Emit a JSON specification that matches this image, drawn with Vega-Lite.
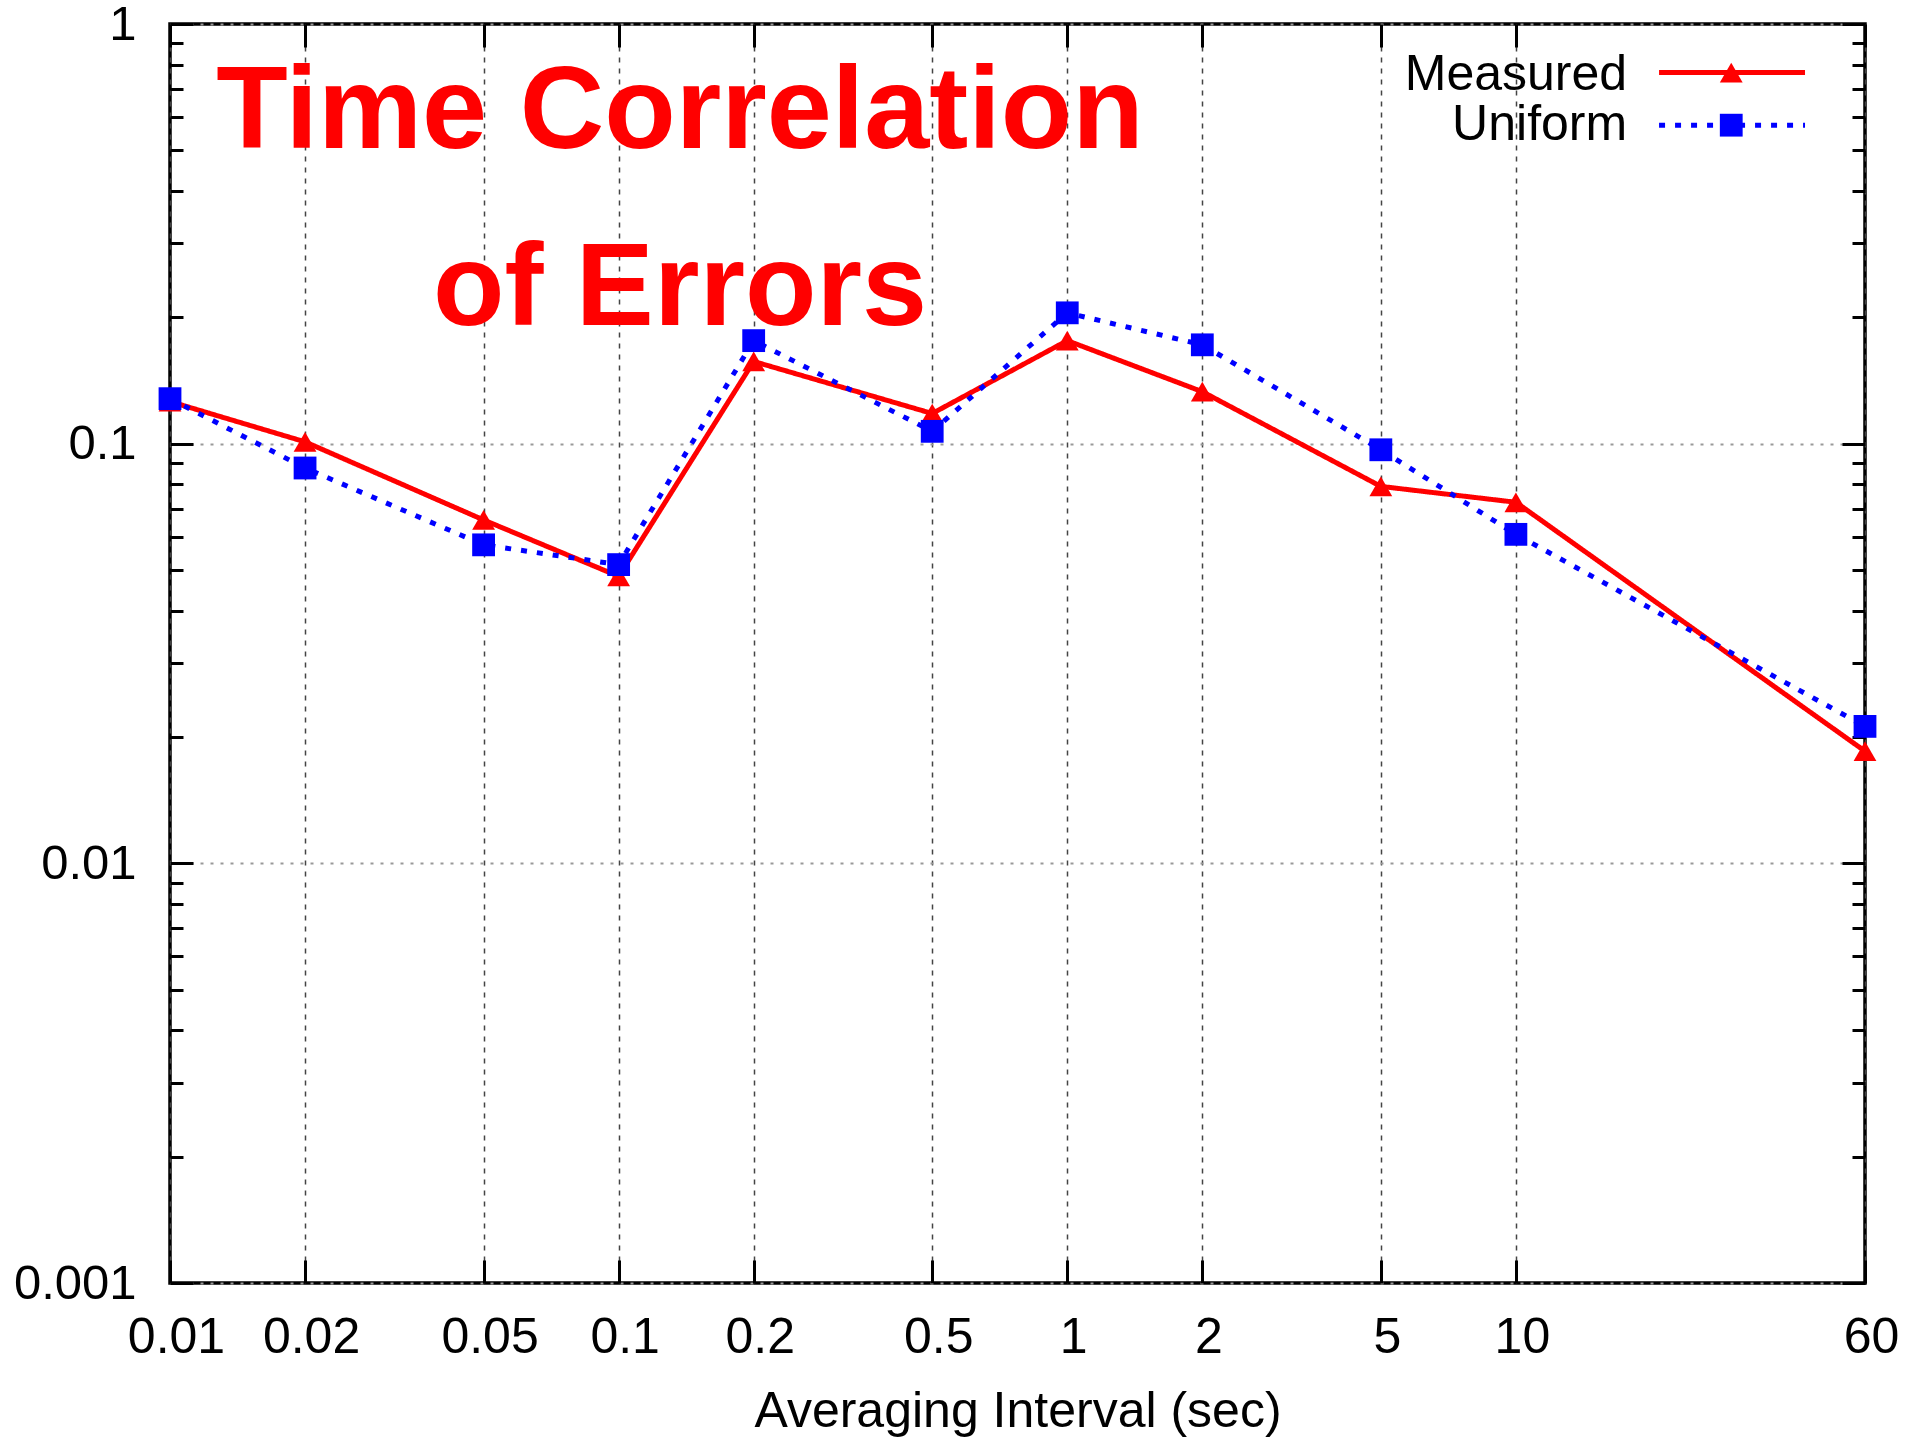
{
  "$schema": "https://vega.github.io/schema/vega-lite/v6.json",
  "width": 1695,
  "height": 1259,
  "autosize": {"type": "none"},
  "padding": {"left": 170, "top": 24, "right": 42, "bottom": 155},
  "background": "white",
  "config": {
    "view": {"stroke": "black", "strokeWidth": 3.5},
    "font": "Liberation Sans",
    "axis": {"labelFont": "Liberation Sans", "titleFont": "Liberation Sans", "labelColor": "black", "titleColor": "black", "titleFontWeight": "normal"}
  },
  "datasets": {
    "errors": [
      {"interval": 0.01, "series": "Measured", "error": 0.126},
      {"interval": 0.02, "series": "Measured", "error": 0.101},
      {"interval": 0.05, "series": "Measured", "error": 0.0658},
      {"interval": 0.1, "series": "Measured", "error": 0.0483},
      {"interval": 0.2, "series": "Measured", "error": 0.157},
      {"interval": 0.5, "series": "Measured", "error": 0.118},
      {"interval": 1, "series": "Measured", "error": 0.176},
      {"interval": 2, "series": "Measured", "error": 0.133},
      {"interval": 5, "series": "Measured", "error": 0.0791},
      {"interval": 10, "series": "Measured", "error": 0.0725},
      {"interval": 60, "series": "Measured", "error": 0.0185},
      {"interval": 0.01, "series": "Uniform", "error": 0.128},
      {"interval": 0.02, "series": "Uniform", "error": 0.0875},
      {"interval": 0.05, "series": "Uniform", "error": 0.0574},
      {"interval": 0.1, "series": "Uniform", "error": 0.0515},
      {"interval": 0.2, "series": "Uniform", "error": 0.176},
      {"interval": 0.5, "series": "Uniform", "error": 0.107},
      {"interval": 1, "series": "Uniform", "error": 0.205},
      {"interval": 2, "series": "Uniform", "error": 0.172},
      {"interval": 5, "series": "Uniform", "error": 0.0967},
      {"interval": 10, "series": "Uniform", "error": 0.0608},
      {"interval": 60, "series": "Uniform", "error": 0.0212}
    ],
    "keys": [
      {"series": "Measured"},
      {"series": "Uniform"}
    ],
    "heading": [
      {"title": "Time Correlation\nof Errors"}
    ]
  },
  "resolve": {"axis": {"x": "independent", "y": "independent"}},
  "layer": [
    {
      "data": {"name": "errors"},
      "mark": {"type": "line", "strokeWidth": 5, "strokeCap": "butt"},
      "encoding": {
        "x": {
          "field": "interval", "type": "quantitative",
          "scale": {"type": "log", "domain": [0.01, 60], "nice": false},
          "axis": {
            "orient": "bottom",
            "values": [0.01, 0.02, 0.05, 0.1, 0.2, 0.5, 1, 2, 5, 10, 60],
            "format": "~g",
            "labelFontSize": 50,
            "labelBaseline": "alphabetic",
            "labelPadding": 92,
            "labelOffset": 6,
            "labelFlush": false,
            "labelOverlap": false,
            "tickSize": -23, "tickWidth": 3, "tickColor": "black",
            "domain": false,
            "grid": true, "gridColor": "#444444", "gridDash": [5, 6], "gridWidth": 1.5,
            "title": "Averaging Interval (sec)",
            "titleFontSize": 50,
            "titleBaseline": "alphabetic",
            "titleY": 143
          }
        },
        "y": {
          "field": "error", "type": "quantitative",
          "scale": {"type": "log", "domain": [0.001, 1], "nice": false},
          "axis": {
            "orient": "left",
            "values": [0.001, 0.002, 0.003, 0.004, 0.005, 0.006, 0.007, 0.008, 0.009, 0.01, 0.02, 0.03, 0.04, 0.05, 0.06, 0.07, 0.08, 0.09, 0.1, 0.2, 0.3, 0.4, 0.5, 0.6, 0.7, 0.8, 0.9, 1],
            "format": "~g",
            "labelExpr": "abs(log(datum.value)/LN10 - round(log(datum.value)/LN10)) < 1e-6 ? datum.label : ''",
            "labelFontSize": 49,
            "labelBaseline": "middle",
            "labelPadding": 57,
            "labelOverlap": false,
            "tickSize": {"condition": {"test": "abs(log(datum.value)/LN10 - round(log(datum.value)/LN10)) < 1e-6", "value": -23}, "value": -13},
            "tickWidth": 3, "tickColor": "black",
            "domain": false,
            "grid": true,
            "gridOpacity": {"condition": {"test": "abs(log(datum.value)/LN10 - round(log(datum.value)/LN10)) < 1e-6", "value": 1}, "value": 0},
            "gridColor": "#999999", "gridDash": [3, 7], "gridWidth": 2,
            "title": null
          }
        },
        "color": {"field": "series", "type": "nominal", "scale": {"domain": ["Measured", "Uniform"], "range": ["#ff0000", "#0000ff"]}, "legend": null},
        "strokeDash": {"field": "series", "type": "nominal", "scale": {"domain": ["Measured", "Uniform"], "range": [[1, 0], [6, 10]]}, "legend": null}
      }
    },
    {
      "data": {"name": "errors"},
      "mark": {"type": "point", "filled": true, "opacity": 1, "size": 520},
      "encoding": {
        "x": {
          "field": "interval", "type": "quantitative",
          "axis": {
            "orient": "top",
            "values": [0.01, 0.02, 0.05, 0.1, 0.2, 0.5, 1, 2, 5, 10, 60],
            "labels": false,
            "tickSize": -23, "tickWidth": 3, "tickColor": "black",
            "domain": false, "grid": false, "title": null
          }
        },
        "y": {
          "field": "error", "type": "quantitative",
          "axis": {
            "orient": "right",
            "values": [0.001, 0.002, 0.003, 0.004, 0.005, 0.006, 0.007, 0.008, 0.009, 0.01, 0.02, 0.03, 0.04, 0.05, 0.06, 0.07, 0.08, 0.09, 0.1, 0.2, 0.3, 0.4, 0.5, 0.6, 0.7, 0.8, 0.9, 1],
            "labels": false,
            "tickSize": {"condition": {"test": "abs(log(datum.value)/LN10 - round(log(datum.value)/LN10)) < 1e-6", "value": -23}, "value": -13},
            "tickWidth": 3, "tickColor": "black",
            "domain": false, "grid": false, "title": null
          }
        },
        "color": {"field": "series", "type": "nominal", "legend": null},
        "shape": {"field": "series", "type": "nominal", "scale": {"domain": ["Measured", "Uniform"], "range": ["triangle-up", "square"]}, "legend": null}
      }
    },
    {
      "data": {"name": "heading"},
      "mark": {"type": "text", "font": "Liberation Sans", "fontSize": 117, "fontWeight": "bold", "color": "#ff0000", "align": "center", "baseline": "alphabetic", "lineHeight": 177, "lineBreak": "\n"},
      "encoding": {
        "x": {"datum": 0.137, "type": "quantitative", "axis": null},
        "y": {"datum": 0.506, "type": "quantitative", "axis": null},
        "text": {"field": "title"}
      }
    },
    {
      "data": {"name": "keys"},
      "transform": [{"filter": "datum.series === 'Measured'"}],
      "layer": [
        {
          "mark": {"type": "rule", "color": "#ff0000", "strokeWidth": 5},
          "encoding": {
            "x": {"datum": 20.85, "type": "quantitative", "axis": null},
            "x2": {"datum": 44.1},
            "y": {"datum": 0.766, "type": "quantitative", "axis": null}
          }
        },
        {
          "mark": {"type": "point", "filled": true, "opacity": 1, "size": 520, "shape": "triangle-up", "color": "#ff0000"},
          "encoding": {
            "x": {"datum": 30.2, "type": "quantitative", "axis": null},
            "y": {"datum": 0.766, "type": "quantitative", "axis": null}
          }
        },
        {
          "mark": {"type": "text", "font": "Liberation Sans", "fontSize": 50, "color": "black", "align": "right", "baseline": "alphabetic"},
          "encoding": {
            "x": {"datum": 17.7, "type": "quantitative", "axis": null},
            "y": {"datum": 0.696, "type": "quantitative", "axis": null},
            "text": {"field": "series"}
          }
        }
      ]
    },
    {
      "data": {"name": "keys"},
      "transform": [{"filter": "datum.series === 'Uniform'"}],
      "layer": [
        {
          "mark": {"type": "rule", "color": "#0000ff", "strokeWidth": 5, "strokeDash": [6, 10]},
          "encoding": {
            "x": {"datum": 20.85, "type": "quantitative", "axis": null},
            "x2": {"datum": 44.1},
            "y": {"datum": 0.574, "type": "quantitative", "axis": null}
          }
        },
        {
          "mark": {"type": "point", "filled": true, "opacity": 1, "size": 520, "shape": "square", "color": "#0000ff"},
          "encoding": {
            "x": {"datum": 30.2, "type": "quantitative", "axis": null},
            "y": {"datum": 0.574, "type": "quantitative", "axis": null}
          }
        },
        {
          "mark": {"type": "text", "font": "Liberation Sans", "fontSize": 50, "color": "black", "align": "right", "baseline": "alphabetic"},
          "encoding": {
            "x": {"datum": 17.7, "type": "quantitative", "axis": null},
            "y": {"datum": 0.529, "type": "quantitative", "axis": null},
            "text": {"field": "series"}
          }
        }
      ]
    }
  ]
}
